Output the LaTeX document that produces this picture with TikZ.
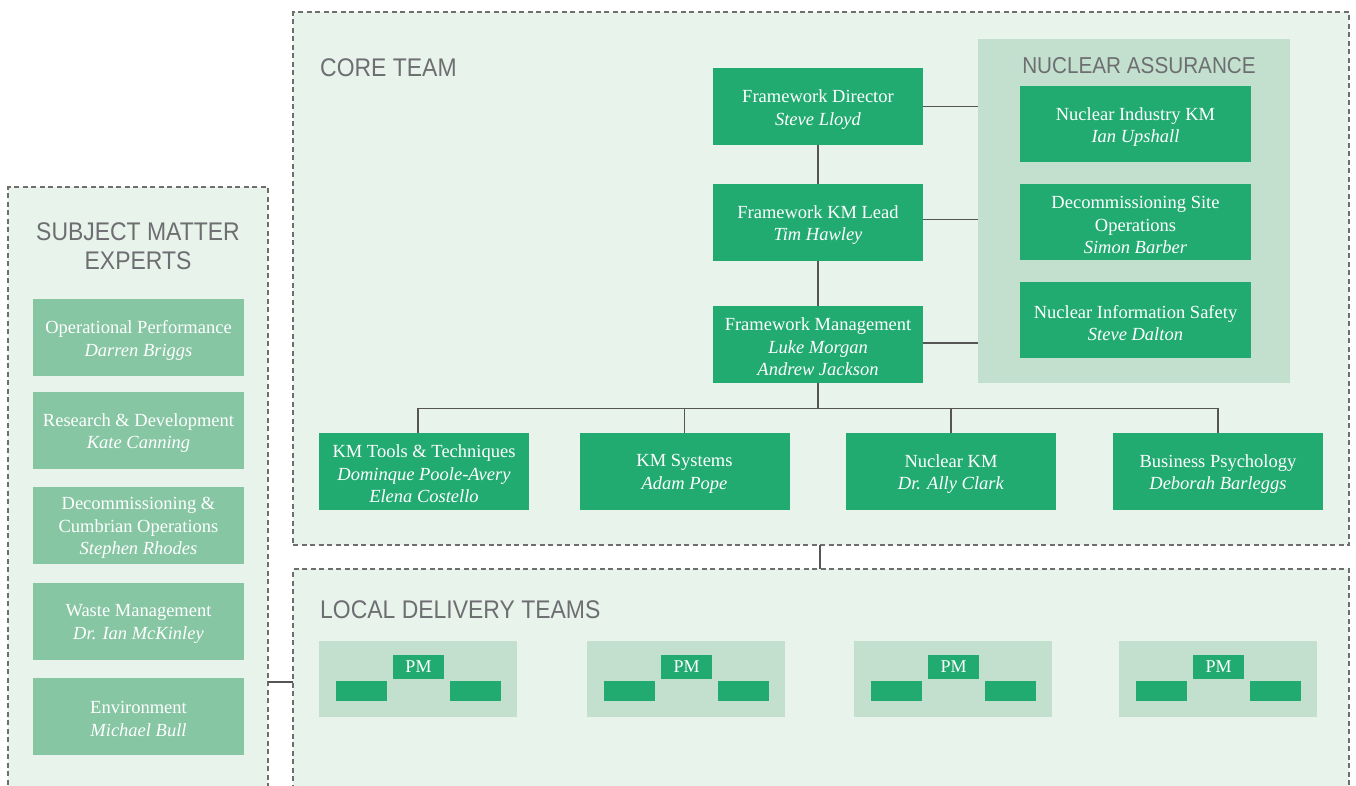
\documentclass[tikz,border=0pt]{standalone}
\usepackage{fontspec}
\setmainfont{Liberation Serif}
\newfontfamily\headfont[FakeStretch=0.9]{Liberation Sans}

\definecolor{panelbg}{HTML}{E8F3EC}
\definecolor{nabg}{HTML}{C3E0CF}
\definecolor{kmgreen}{HTML}{22AB70}
\definecolor{smegreen}{HTML}{86C6A3}
\definecolor{headgray}{HTML}{6D6E71}
\definecolor{linegray}{HTML}{555555}
\definecolor{dashgray}{HTML}{6E6E6E}

\tikzset{
  panel/.style={draw=dashgray, line width=1.1pt, dash pattern=on 5pt off 3.5pt,
    fill=panelbg, rectangle, inner sep=0pt, outer sep=0pt},
  subpanel/.style={fill=nabg, rectangle, inner sep=0pt, outer sep=0pt},
  roletext/.style={text=white, inner sep=0pt, align=center, yshift=-3pt,
    font=\fontsize{18.5}{22.5}\selectfont},
  role/.style={fill=kmgreen, rectangle, inner sep=0pt, outer sep=0pt,
    minimum width=210pt, minimum height=77pt,
    label={[roletext]center:#1}},
  expert/.style={role={#1}, fill=smegreen, minimum width=211pt},
  assure/.style={role={#1}, minimum width=231pt, minimum height=76pt},
  heading/.style={text=headgray, inner sep=0pt, align=center,
    font=\headfont\fontsize{25.5}{29}\selectfont},
  pmbox/.style={fill=kmgreen, text=white, rectangle, inner sep=0pt,
    minimum width=51pt, minimum height=24pt, font=\fontsize{18}{20}\selectfont},
  memberbox/.style={fill=kmgreen, rectangle, inner sep=0pt,
    minimum width=51pt, minimum height=20pt},
  link/.style={draw=linegray, line width=1.3pt},
}

\begin{document}
\begin{tikzpicture}[x=1pt, y=-1pt]
\clip (0,0) rectangle (1356,785);
\fill[white] (0,0) rectangle (1356,785);

% outer dashed panels
\node[panel, minimum width=1056pt, minimum height=533pt] (core) at (821,278.5) {};
\node[panel, minimum width=1056pt, minimum height=231pt] (local) at (821,684.5) {};
\node[panel, minimum width=260pt, minimum height=613pt] (sme) at (138,493.5) {};

% panel headings
\node[heading, anchor=north west] (coretitle) at (320,58.3) {CORE TEAM};
\node[heading, anchor=north west] (localtitle) at (320,600) {LOCAL DELIVERY TEAMS};
\node[heading, anchor=north] (smetitle) at (138,222) {SUBJECT MATTER\\EXPERTS};

% nuclear assurance group
\node[subpanel, minimum width=312pt, minimum height=344pt] (na) at (1134,211) {};
\node[heading, anchor=north, font=\headfont\fontsize{23}{26}\selectfont] (natitle) at (1139,57.3) {NUCLEAR ASSURANCE};
\node[assure={Nuclear Industry KM\\\textit{Ian Upshall}}] (nikm) at (1135.5,124) {};
\node[assure={Decommissioning Site\\Operations\\\textit{Simon Barber}}] (dso) at (1135.5,222) {};
\node[assure={Nuclear Information Safety\\\textit{Steve Dalton}}] (nis) at (1135.5,320) {};

% core chain
\node[role={Framework Director\\\textit{Steve Lloyd}}] (dir) at (818,106.5) {};
\node[role={Framework KM Lead\\\textit{Tim Hawley}}] (lead) at (818,222.3) {};
\node[role={Framework Management\\\textit{Luke Morgan}\\\textit{Andrew Jackson}}] (mgmt) at (818,344) {};

% specialist tier
\node[role={KM Tools \& Techniques\\\textit{Dominque Poole-Avery}\\\textit{Elena Costello}}] (tools) at (424,471) {};
\node[role={KM Systems\\\textit{Adam Pope}}] (systems) at (684.5,471) {};
\node[role={Nuclear KM\\\textit{Dr. Ally Clark}}] (nkm) at (951,471) {};
\node[role={Business Psychology\\\textit{Deborah Barleggs}}] (psych) at (1218,471) {};

% subject matter experts
\node[expert={Operational Performance\\\textit{Darren Briggs}}] (opperf) at (138.5,337.5) {};
\node[expert={Research \& Development\\\textit{Kate Canning}}] (rnd) at (138.5,430) {};
\node[expert={Decommissioning \&\\Cumbrian Operations\\\textit{Stephen Rhodes}}] (decom) at (138.5,525) {};
\node[expert={Waste Management\\\textit{Dr. Ian McKinley}}] (waste) at (138.5,621) {};
\node[expert={Environment\\\textit{Michael Bull}}] (env) at (138.5,716) {};

% local delivery teams
\foreach \i/\cx in {1/418, 2/686, 3/953, 4/1218} {
  \node[subpanel, minimum width=198pt, minimum height=76pt] (team\i) at (\cx,679) {};
  \node[pmbox] (pm\i) at (\cx+0.5,667) {PM};
  \node[memberbox] (mleft\i) at (\cx-56.5,691) {};
  \node[memberbox] (mright\i) at (\cx+57,691) {};
}

% connectors
\draw[link] (dir) -- (lead);
\draw[link] (lead) -- (mgmt);
\draw[link] (dir.east) -- (dir.east -| na.west);
\draw[link] ([yshift=2.7pt]lead.east) -- ([yshift=2.7pt]lead.east -| na.west);
\draw[link] ([yshift=1pt]mgmt.east) -- ([yshift=1pt]mgmt.east -| na.west);

\path (mgmt.south) ++(0,26) coordinate (bus);
\draw[link] (mgmt.south) -- (bus);
\draw[link] ([xshift=-6pt]tools.north) |- (bus) -| (psych.north);
\draw[link] (systems.north) -- (systems.north |- bus);
\draw[link] (nkm.north) -- (nkm.north |- bus);

\draw[link] ([xshift=-1pt]core.south) -- ([xshift=-1pt]local.north);
\coordinate (smerow) at (0,682);
\draw[link] (sme.east |- smerow) -- (local.west |- smerow);
\end{tikzpicture}
\end{document}
